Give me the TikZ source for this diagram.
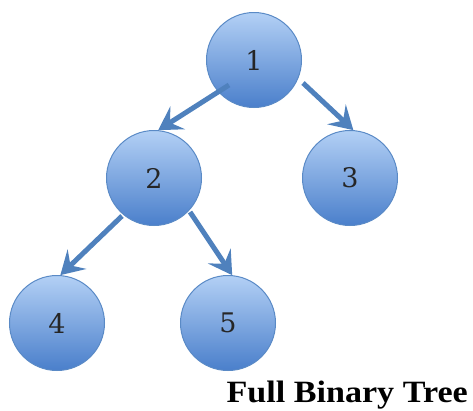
\documentclass[tikz,border=0pt]{standalone}
\usepackage{fontspec}
\newfontfamily\numfont{DejaVu Serif}
\setmainfont{Liberation Serif}
\usetikzlibrary{arrows.meta}
\definecolor{nodetop}{HTML}{B3D0F5}
\definecolor{nodebot}{HTML}{4A7FCB}
\definecolor{nodeedge}{HTML}{5A8AC6}
\definecolor{arrowc}{HTML}{4F81BD}
\begin{document}
\begin{tikzpicture}[x=1pt,y=-1pt,
  tnode/.style={circle, minimum size=95pt, inner sep=0pt, draw=nodeedge, line width=1pt,
    top color=nodetop, bottom color=nodebot, font=\numfont\fontsize{27}{27}\selectfont, text=black!85},
  tarrow/.style={draw=arrowc, line width=5pt, -{Stealth[length=23pt,width=27pt,inset=9pt]}}]
\useasboundingbox (0,0) rectangle (473,410);
\node[tnode] (n1) at (254,60) {1};
\node[tnode] (n2) at (154,178) {2};
\node[tnode] (n3) at (350,178) {3};
\node[tnode] (n4) at (57,323) {4};
\node[tnode] (n5) at (228,323) {5};
\coordinate (s12) at (229,85);
\coordinate (s13) at (303,83);
\coordinate (s24) at (122,216);
\coordinate (s25) at (190,212);
\draw[tarrow] (s12) -- (n2.85);
\draw[tarrow] (s13) -- (n3.86);
\draw[tarrow] (s24) -- (n4.86);
\draw[tarrow] (s25) -- (n5.85);
\node[font=\bfseries\fontsize{31}{31}\selectfont, anchor=base east, inner sep=0pt] (title) at (468,402) {\scalebox{1.1}[1]{Full Binary Tree}};
\end{tikzpicture}
\end{document}
